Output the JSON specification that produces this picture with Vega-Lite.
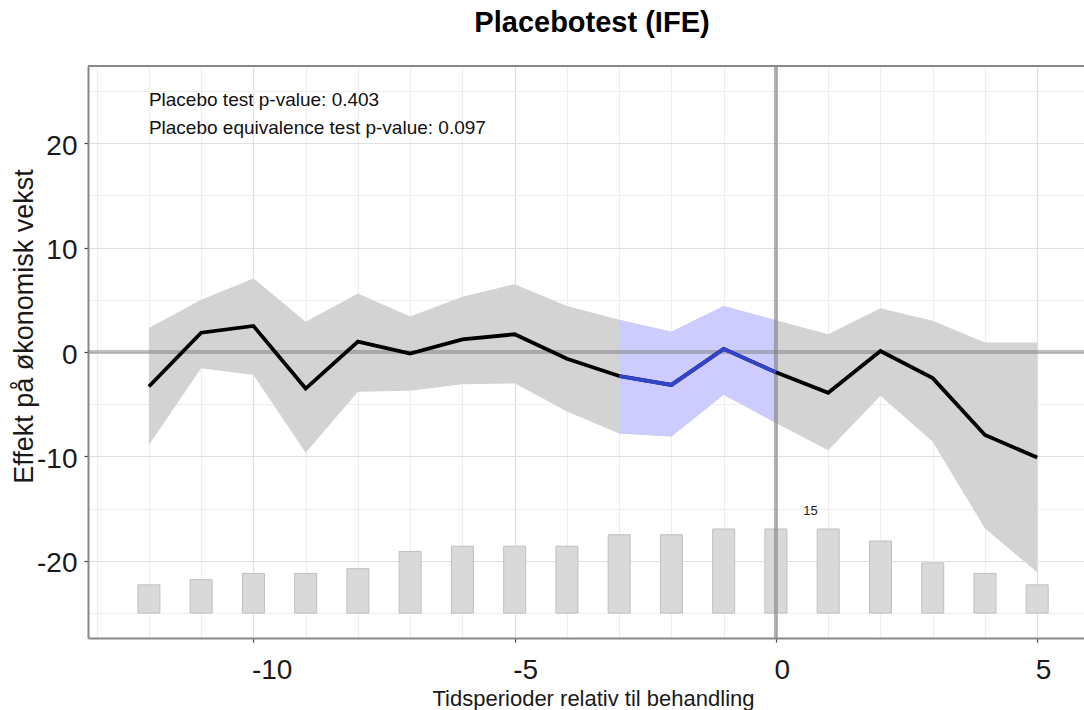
{
  "$schema": "https://vega.github.io/schema/vega-lite/v6.json",
  "autosize": "none",
  "width": 996,
  "height": 572,
  "padding": {"left": 88, "top": 66, "right": 0, "bottom": 72},
  "background": "white",
  "config": {
    "view": {"stroke": null},
    "font": "Liberation Sans",
    "axisX": {
      "values": [-12.5, -10, -7.5, -5, -2.5, 0, 2.5, 5],
      "labelExpr": "datum.value % 5 === 0 ? toString(datum.value) : ''",
      "labelFont": "Liberation Sans",
      "labelFontSize": 28,
      "labelColor": "#1a1a1a",
      "labelAlign": "left",
      "labelBaseline": "top",
      "labelPadding": 14,
      "labelOffset": -2,
      "labelOverlap": false,
      "labelFlush": false,
      "tickSize": 4,
      "tickWidth": 1.2,
      "tickColor": "#444444",
      "tickOpacity": {"condition": {"test": "datum.value % 5 !== 0", "value": 0}, "value": 1},
      "grid": true,
      "gridColor": {"condition": {"test": "datum.value % 5 !== 0", "value": "#eeeeee"}, "value": "#e0e0e0"},
      "gridWidth": 1.2,
      "domainColor": "#888888",
      "domainWidth": 2,
      "titleFont": "Liberation Sans",
      "titleFontSize": 22,
      "titleFontWeight": "normal",
      "titleColor": "#1a1a1a",
      "titleX": 505,
      "titleY": 67,
      "titleAlign": "center",
      "titleBaseline": "alphabetic"
    },
    "axisY": {
      "values": [-25, -20, -15, -10, -5, 0, 5, 10, 15, 20, 25],
      "labelExpr": "datum.value % 10 === 0 ? toString(datum.value) : ''",
      "labelFont": "Liberation Sans",
      "labelFontSize": 28,
      "labelColor": "#1a1a1a",
      "labelPadding": 7,
      "labelBaseline": "middle",
      "labelOffset": 3,
      "labelOverlap": false,
      "labelFlush": false,
      "tickSize": 4,
      "tickWidth": 1.2,
      "tickColor": "#444444",
      "tickOpacity": {"condition": {"test": "datum.value % 10 !== 0", "value": 0}, "value": 1},
      "grid": true,
      "gridColor": {"condition": {"test": "datum.value % 10 !== 0", "value": "#eeeeee"}, "value": "#e0e0e0"},
      "gridWidth": 1.2,
      "domainColor": "#888888",
      "domainWidth": 2,
      "titleFont": "Liberation Sans",
      "titleFontSize": 27,
      "titleFontWeight": "normal",
      "titleColor": "#1a1a1a",
      "titleX": -56,
      "titleY": 260,
      "titleAngle": 270,
      "titleAlign": "center",
      "titleBaseline": "alphabetic"
    }
  },
  "title": {
    "text": "Placebotest (IFE)",
    "font": "Liberation Sans",
    "fontSize": 29,
    "fontWeight": "bold",
    "color": "#000000",
    "anchor": "middle",
    "dx": 6,
    "baseline": "alphabetic",
    "offset": 3
  },
  "datasets": {
    "main": [
      {"t": -12, "est": -3.3, "lo": -8.9, "hi": 2.3, "bar_top": -22.3},
      {"t": -11, "est": 1.85, "lo": -1.55, "hi": 5.0, "bar_top": -21.8},
      {"t": -10, "est": 2.5, "lo": -2.2, "hi": 7.05, "bar_top": -21.2},
      {"t": -9, "est": -3.5, "lo": -9.65, "hi": 2.9, "bar_top": -21.2},
      {"t": -8, "est": 1.0, "lo": -3.8, "hi": 5.6, "bar_top": -20.75},
      {"t": -7, "est": -0.15, "lo": -3.7, "hi": 3.4, "bar_top": -19.1},
      {"t": -6, "est": 1.2, "lo": -3.1, "hi": 5.3, "bar_top": -18.6},
      {"t": -5, "est": 1.7, "lo": -3.0, "hi": 6.5, "bar_top": -18.6},
      {"t": -4, "est": -0.65, "lo": -5.7, "hi": 4.4, "bar_top": -18.6},
      {"t": -3, "est": -2.3, "lo": -7.8, "hi": 3.1, "bar_top": -17.5},
      {"t": -2, "est": -3.15, "lo": -8.1, "hi": 1.95, "bar_top": -17.5},
      {"t": -1, "est": 0.3, "lo": -4.1, "hi": 4.4, "bar_top": -16.95},
      {"t": 0, "est": -1.95, "lo": -6.8, "hi": 3.05, "bar_top": -16.95},
      {"t": 1, "est": -3.9, "lo": -9.4, "hi": 1.7, "bar_top": -16.95},
      {"t": 2, "est": 0.1, "lo": -4.2, "hi": 4.2, "bar_top": -18.1},
      {"t": 3, "est": -2.5, "lo": -8.6, "hi": 3.0, "bar_top": -20.2},
      {"t": 4, "est": -7.95, "lo": -16.9, "hi": 0.9, "bar_top": -21.2},
      {"t": 5, "est": -10.1, "lo": -21.1, "hi": 0.9, "bar_top": -22.3}
    ],
    "notes": [
      {"x": -12, "y": 23.6, "label": "Placebo test p-value: 0.403"},
      {"x": -12, "y": 20.9, "label": "Placebo equivalence test p-value: 0.097"}
    ],
    "maxcount": [
      {"x": 0.66, "y": -15.6, "label": "15"}
    ],
    "refs": [
      {"zero": 0, "top": 27.39}
    ]
  },
  "layer": [
    {
      "data": {"name": "main"},
      "mark": {"type": "bar", "width": 22, "fill": "#d9d9d9", "stroke": "#bfbfbf", "strokeWidth": 1},
      "encoding": {
        "x": {
          "field": "t", "type": "quantitative",
          "scale": {"domain": [-13.07, 5.8], "nice": false, "zero": false},
          "title": "Tidsperioder relativ til behandling"
        },
        "y": {
          "field": "bar_top", "type": "quantitative",
          "scale": {"domain": [-27.39, 27.39], "nice": false, "zero": false},
          "title": "Effekt på økonomisk vekst"
        },
        "y2": {"datum": -25}
      }
    },
    {
      "data": {"name": "main"},
      "mark": {"type": "area", "fill": "#d3d3d3", "opacity": 1},
      "encoding": {
        "x": {"field": "t", "type": "quantitative"},
        "y": {"field": "lo", "type": "quantitative"},
        "y2": {"field": "hi"}
      }
    },
    {
      "data": {"name": "main"},
      "transform": [{"filter": "datum.t >= -3 && datum.t <= 0"}],
      "mark": {"type": "area", "fill": "#ccccff", "opacity": 1},
      "encoding": {
        "x": {"field": "t", "type": "quantitative"},
        "y": {"field": "lo", "type": "quantitative"},
        "y2": {"field": "hi"}
      }
    },
    {
      "data": {"name": "refs"},
      "mark": {"type": "rule", "color": "#7f7f7f", "opacity": 0.5, "strokeWidth": 4},
      "encoding": {"y": {"field": "zero", "type": "quantitative"}}
    },
    {
      "data": {"name": "refs"},
      "mark": {"type": "rule", "color": "#7f7f7f", "opacity": 0.6, "strokeWidth": 4},
      "encoding": {"x": {"field": "zero", "type": "quantitative"}}
    },
    {
      "data": {"name": "main"},
      "mark": {"type": "line", "color": "#000000", "strokeWidth": 3.8, "strokeJoin": "miter"},
      "encoding": {
        "x": {"field": "t", "type": "quantitative"},
        "y": {"field": "est", "type": "quantitative"}
      }
    },
    {
      "data": {"name": "main"},
      "transform": [{"filter": "datum.t >= -3 && datum.t <= 0"}],
      "mark": {"type": "line", "color": "#3344cc", "strokeWidth": 3.8, "strokeJoin": "miter"},
      "encoding": {
        "x": {"field": "t", "type": "quantitative"},
        "y": {"field": "est", "type": "quantitative"}
      }
    },
    {
      "data": {"name": "refs"},
      "mark": {"type": "rule", "color": "#888888", "strokeWidth": 2},
      "encoding": {"y": {"field": "top", "type": "quantitative"}}
    },
    {
      "data": {"name": "notes"},
      "mark": {"type": "text", "align": "left", "baseline": "alphabetic", "font": "Liberation Sans", "fontSize": 19, "color": "#111111"},
      "encoding": {
        "x": {"field": "x", "type": "quantitative"},
        "y": {"field": "y", "type": "quantitative"},
        "text": {"field": "label"}
      }
    },
    {
      "data": {"name": "maxcount"},
      "mark": {"type": "text", "align": "center", "baseline": "alphabetic", "font": "Liberation Sans", "fontSize": 13, "color": "#222222"},
      "encoding": {
        "x": {"field": "x", "type": "quantitative"},
        "y": {"field": "y", "type": "quantitative"},
        "text": {"field": "label"}
      }
    }
  ]
}
